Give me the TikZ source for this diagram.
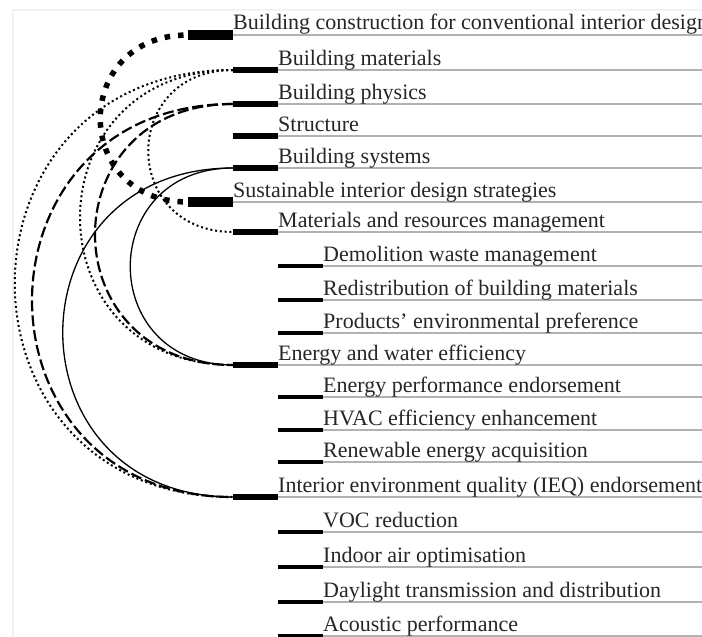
\documentclass[tikz,border=0pt]{standalone}
\usepackage{fontspec}
\setmainfont{Liberation Serif}

\tikzstyle{map_style}=[x=1pt,y=-1pt,
  itemText/.style={anchor=base west,inner sep=0pt,text=black!85,font=\fontsize{22}{26}\selectfont},
  topBar/.style={rectangle,fill=black,anchor=west,inner sep=0pt,minimum width=45pt,minimum height=10pt},
  midBar/.style={topBar,minimum height=6pt},
  subBar/.style={topBar,minimum height=3.5pt},
  ruleLine/.style={draw=black!30,line width=1.5pt},
  strongLink/.style={line width=5.5pt,dash pattern=on 5.5pt off 8pt,dash phase=9pt},
  dotLink/.style={line width=2pt,dash pattern=on 2pt off 2.8pt},
  dashLink/.style={line width=2.2pt,dash pattern=on 11pt off 4pt},
  plainLink/.style={line width=1.3pt}]

\begin{document}
\begin{tikzpicture}[map_style]
    \useasboundingbox (0,0) rectangle (702,637);
    \coordinate (edge) at (702,0);

    % Faint frame along the top and the left side
    \draw[black!5,line width=1.5pt] (13,637) -- (13,10) -- (702,10);

    % Draw the bars, the rule lines and the item texts
    \foreach \i/\lvl/\y/\kind/\txt in {
        0/0/35/topBar/{Building construction for conventional interior design},
        1/1/70/midBar/{Building materials},
        2/1/104/midBar/{Building physics},
        3/1/136/midBar/{Structure},
        4/1/168/midBar/{Building systems},
        5/0/202/topBar/{Sustainable interior design strategies},
        6/1/232/midBar/{Materials and resources management},
        7/2/266/subBar/{Demolition waste management},
        8/2/300/subBar/{Redistribution of building materials},
        9/2/333/subBar/{Products’ environmental preference},
        10/1/365/midBar/{Energy and water efficiency},
        11/2/397/subBar/{Energy performance endorsement},
        12/2/430/subBar/{HVAC efficiency enhancement},
        13/2/462/subBar/{Renewable energy acquisition},
        14/1/497/midBar/{Interior environment quality (IEQ) endorsement},
        15/2/532/subBar/{VOC reduction},
        16/2/567/subBar/{Indoor air optimisation},
        17/2/602/subBar/{Daylight transmission and distribution},
        18/2/636/subBar/{Acoustic performance}}
    {
        \node[\kind] (b-\i) at (188+45*\lvl,\y) {};
        \draw[ruleLine] (b-\i.east) -- (b-\i.east -| edge);
        \node[itemText] (t-\i) at (233+45*\lvl,\y-5) {\txt};
    }

    % Connect the conventional topics with the sustainable strategies;
    % the bend is how far the control points reach out to the left
    \foreach \source / \dest / \bend / \kind in {
        0/5/117/strongLink,
        1/6/113/dotLink, 1/10/204/dotLink, 1/14/291/dotLink,
        2/10/184/dashLink, 2/14/268/dashLink,
        4/10/137/plainLink, 4/14/227/plainLink}
        \draw[\kind] (b-\source.west) .. controls +(-\bend,0) and +(-\bend,0) .. (b-\dest.west);

\end{tikzpicture}
\end{document}
